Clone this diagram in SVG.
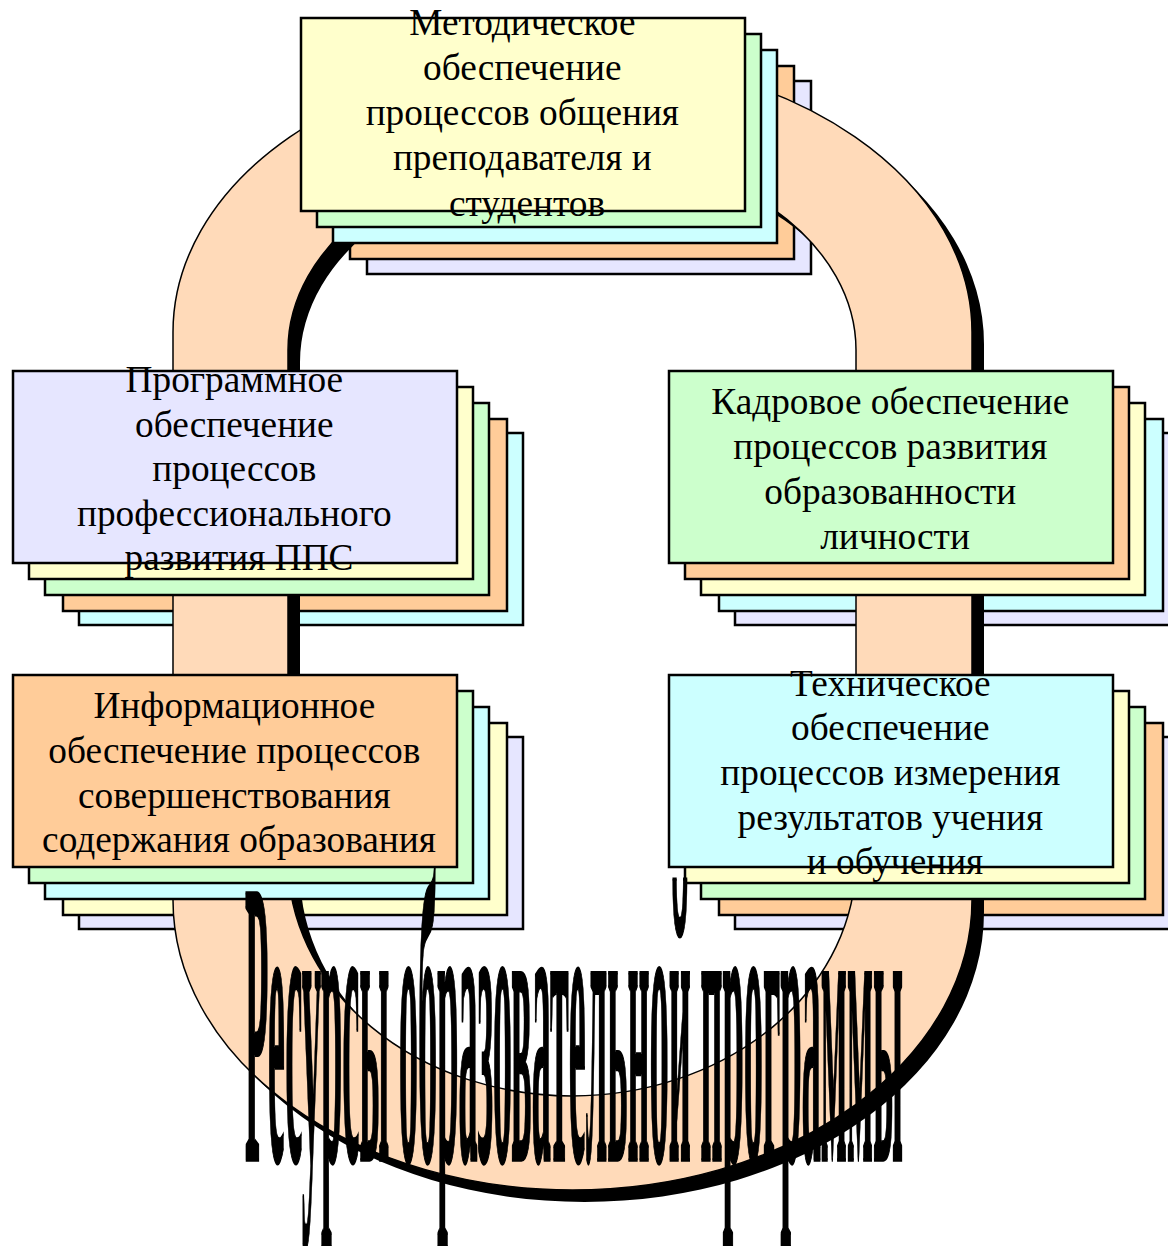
<svg xmlns="http://www.w3.org/2000/svg" xmlns:xlink="http://www.w3.org/1999/xlink" width="1168" height="1246" viewBox="0 0 1168 1246">
  <style>
    .box { stroke: #000; stroke-width: 2.5; }
    .y { fill: #FFFFCC; }
    .g { fill: #CCFFCC; }
    .c { fill: #CCFFFF; }
    .o { fill: #FFCC99; }
    .l { fill: #E6E6FF; }
    .lbl { font-family: "Liberation Serif", "Times New Roman", serif; font-size: 37.3px; fill: #000; text-anchor: middle; }
    .big { font-family: "Liberation Serif", "Times New Roman", serif; font-weight: bold; font-size: 100px; fill: #000; stroke: #000; stroke-width: 2.5; }
  </style>
  <defs>
    <!-- closed band with straight sides and elliptical ends; the hole is cut by evenodd -->
    <path id="ringPath" fill-rule="evenodd"
          d="M173,332 A399.5,276 0 0 1 972,332 L972,900 A399.5,290 0 0 1 173,900 Z
             M288,350 L288,860 A284,236 0 0 0 856,860 L856,350 A284,200 0 0 0 288,350 Z"/>
  </defs>
  <rect width="1168" height="1246" fill="#fff"/>

  <!-- rear sheets of every stack sit underneath the band -->
  <g id="stack-backs">
    <rect class="box l" x="367" y="81" width="444" height="193"/>
    <rect class="box o" x="350" y="66" width="444" height="193"/>

    <rect class="box c" x="79" y="433" width="444" height="192"/>
    <rect class="box o" x="63" y="419" width="444" height="192"/>

    <rect class="box l" x="735" y="433" width="444" height="192"/>
    <rect class="box c" x="719" y="419" width="444" height="192"/>

    <rect class="box l" x="79" y="737" width="444" height="192"/>
    <rect class="box y" x="63" y="723" width="444" height="192"/>

    <rect class="box l" x="735" y="737" width="444" height="192"/>
    <rect class="box o" x="719" y="723" width="444" height="192"/>
  </g>

  <!-- the resource band with its drop shadow -->
  <g id="connectors">
    <g id="ring">
      <use xlink:href="#ringPath" href="#ringPath" transform="translate(12,12)" fill="#000"/>
      <use xlink:href="#ringPath" href="#ringPath" fill="#FFDAB9" stroke="#000" stroke-width="1.5"/>
    </g>
  </g>

  <g id="node-metodicheskoe">
    <rect class="box c" x="333" y="50" width="444" height="193"/>
    <rect class="box g" x="317" y="34" width="444" height="193"/>
    <rect class="box y" x="301" y="18" width="444" height="193"/>
    <text class="lbl">
      <tspan x="527" y="35">Методическое</tspan>
      <tspan x="527" y="80">обеспечение</tspan>
      <tspan x="527" y="125">процессов общения</tspan>
      <tspan x="527" y="170">преподавателя и</tspan>
      <tspan x="527" y="216">студентов</tspan>
    </text>
  </g>

  <g id="node-programmnoe">
    <rect class="box g" x="45" y="403" width="444" height="192"/>
    <rect class="box y" x="29" y="387" width="444" height="192"/>
    <rect class="box l" x="13" y="371" width="444" height="192"/>
    <text class="lbl">
      <tspan x="239" y="392">Программное</tspan>
      <tspan x="239" y="436.5">обеспечение</tspan>
      <tspan x="239" y="481">процессов</tspan>
      <tspan x="239" y="525.5">профессионального</tspan>
      <tspan x="239" y="570">развития ППС</tspan>
    </text>
  </g>

  <g id="node-kadrovoe">
    <rect class="box y" x="701" y="403" width="444" height="192"/>
    <rect class="box o" x="685" y="387" width="444" height="192"/>
    <rect class="box g" x="669" y="371" width="444" height="192"/>
    <text class="lbl">
      <tspan x="895" y="414">Кадровое обеспечение</tspan>
      <tspan x="895" y="459">процессов развития</tspan>
      <tspan x="895" y="504">образованности</tspan>
      <tspan x="895" y="549">личности</tspan>
    </text>
  </g>

  <g id="node-informacionnoe">
    <rect class="box c" x="45" y="707" width="444" height="192"/>
    <rect class="box g" x="29" y="691" width="444" height="192"/>
    <rect class="box o" x="13" y="675" width="444" height="192"/>
    <text class="lbl">
      <tspan x="239" y="718">Информационное</tspan>
      <tspan x="239" y="763">обеспечение процессов</tspan>
      <tspan x="239" y="808">совершенствования</tspan>
      <tspan x="239" y="852">содержания образования</tspan>
    </text>
  </g>

  <g id="node-tehnicheskoe">
    <rect class="box g" x="701" y="707" width="444" height="192"/>
    <rect class="box y" x="685" y="691" width="444" height="192"/>
    <rect class="box c" x="669" y="675" width="444" height="192"/>
    <text class="lbl">
      <tspan x="895" y="696">Техническое</tspan>
      <tspan x="895" y="740">обеспечение</tspan>
      <tspan x="895" y="785">процессов измерения</tspan>
      <tspan x="895" y="830">результатов учения</tspan>
      <tspan x="895" y="874">и обучения</tspan>
    </text>
  </g>

  <!-- tall condensed title across the bottom of the band -->
  <g id="title" transform="translate(245,1160) scale(1,4.08)">
    <text class="big" x="0" y="0" textLength="658" lengthAdjust="spacingAndGlyphs" vector-effect="non-scaling-stroke">Ресурсы образовательной программы</text>
  </g>
</svg>
